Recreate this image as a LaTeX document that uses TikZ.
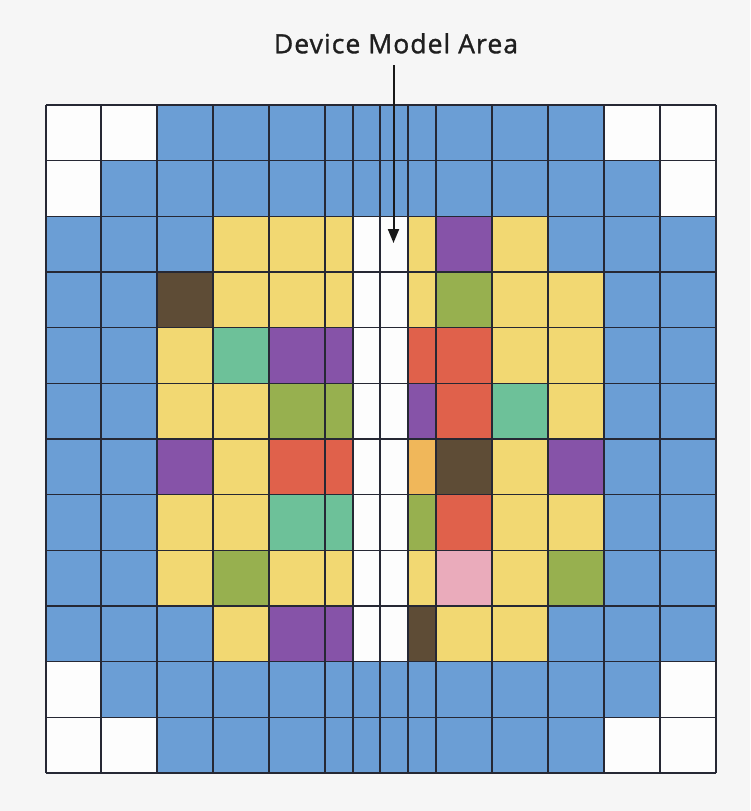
\documentclass[tikz,border=0pt]{standalone}
\usepackage{fontspec}
\setmainfont{Open Sans}
\newfontfamily\labelfont[LetterSpace=4,FakeBold=1.2]{Open Sans}
\usetikzlibrary{arrows.meta}
\definecolor{cBg}{HTML}{F6F6F6}
\definecolor{cW}{HTML}{FDFDFD}
\definecolor{cB}{HTML}{6B9ED5}
\definecolor{cY}{HTML}{F2D872}
\definecolor{cP}{HTML}{8653A8}
\definecolor{cN}{HTML}{5E4C36}
\definecolor{cO}{HTML}{97B04F}
\definecolor{cT}{HTML}{6DC199}
\definecolor{cR}{HTML}{E0614B}
\definecolor{cA}{HTML}{F0B75A}
\definecolor{cK}{HTML}{EAABBB}
\definecolor{cLine}{HTML}{262834}
\tikzset{
  gridline/.style={draw=cLine, line width=1.3pt},
  labeltext/.style={font=\labelfont\fontsize{26.5}{30}\selectfont, text=black!88, inner sep=0pt},
  pointer/.style={draw=black!90, line width=2pt, -{Triangle[length=14pt,width=11pt]}}
}
\begin{document}
\begin{tikzpicture}[x=1pt,y=-1pt]
\fill[cBg] (0,0) rectangle (750,811);
\useasboundingbox (0,0) rectangle (750,811);
\def\xs{{46,101,157,213,269,325,353,380,408,436,492,548,604,660,716}}
\foreach \r/\cols in {
 1/{W,W,B,B,B,B,B,B,B,B,B,B,W,W},
 2/{W,B,B,B,B,B,B,B,B,B,B,B,B,W},
 3/{B,B,B,Y,Y,Y,W,W,Y,P,Y,B,B,B},
 4/{B,B,N,Y,Y,Y,W,W,Y,O,Y,Y,B,B},
 5/{B,B,Y,T,P,P,W,W,R,R,Y,Y,B,B},
 6/{B,B,Y,Y,O,O,W,W,P,R,T,Y,B,B},
 7/{B,B,P,Y,R,R,W,W,A,N,Y,P,B,B},
 8/{B,B,Y,Y,T,T,W,W,O,R,Y,Y,B,B},
 9/{B,B,Y,O,Y,Y,W,W,Y,K,Y,O,B,B},
 10/{B,B,B,Y,P,P,W,W,N,Y,Y,B,B,B},
 11/{W,B,B,B,B,B,B,B,B,B,B,B,B,W},
 12/{W,W,B,B,B,B,B,B,B,B,B,B,W,W}}{
  \foreach \k [count=\c] in \cols {
    \pgfmathsetmacro\xa{\xs[\c-1]}
    \pgfmathsetmacro\xb{\xs[\c]}
    \pgfmathsetmacro\ya{105+(\r-1)*55.667}
    \pgfmathsetmacro\yb{105+\r*55.667}
    \fill[c\k] (\xa,\ya) rectangle (\xb,\yb);
  }
}
\foreach \x in {46,101,157,213,269,325,353,380,408,436,492,548,604,660,716}
  \draw[gridline] (\x,105) -- (\x,773);
\foreach \i in {0,...,12}
  \draw[gridline] (46,105+\i*55.667) -- (716,105+\i*55.667);
\node[labeltext, anchor=base] (label) at (396,53.3) {Device Model Area};
\coordinate (tail) at (393.5,65);
\coordinate (tip) at (393.5,243);
\draw[pointer] (tail) -- (tip);
\end{tikzpicture}
\end{document}
